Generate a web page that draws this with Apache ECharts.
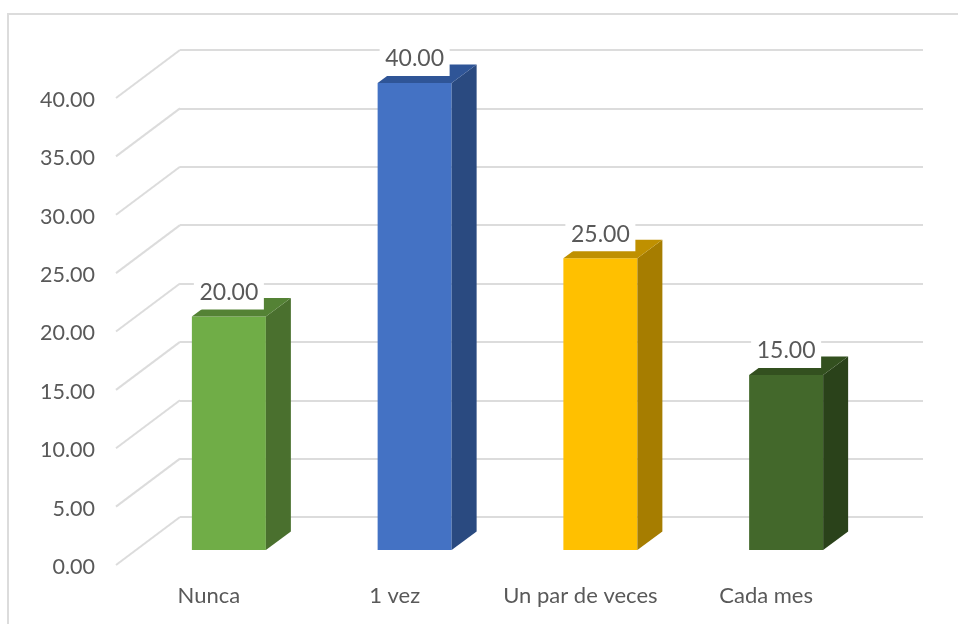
<!DOCTYPE html>
<html>
<head>
<meta charset="utf-8">
<style>
  html, body { margin: 0; padding: 0; background: #fff; }
  #chart { width: 958px; height: 624px; }
</style>
<script src="https://cdn.jsdelivr.net/npm/echarts@6/dist/echarts.min.js"></script>
</head>
<body>
<div id="chart"></div>
<script>
const categories = ['Nunca', '1 vez', 'Un par de veces', 'Cada mes']
const values = [20, 40, 25, 15]
const yTicks = [0, 5, 10, 15, 20, 25, 30, 35, 40]

const frontColors = ['#70AD47', '#4472C4', '#FFC000', '#43682B']
const sideColors = ['#4A702E', '#2A4A80', '#A67D00', '#2A421A']
const topColors = ['#548235', '#2F5597', '#BF9000', '#33501F']

const textColor = '#595959'
const lineColor = '#DCDCDC'
const fontFamily = 'Lato'

// fake 3d: bars sit on the floor between the front edge and the back wall
const barWidth = 74
const barShiftX = 20
const barShiftY = -17
const depthX = 25
const depthY = -18.5
const wallX = 64
const wallY = -48
// Lato sits a bit high, the front grid is 2px low so its labels line up
const labelNudge = 2

const chart = echarts.init(document.getElementById('chart'))

const renderDiagonal = (params, api) => {
  const y = api.coord([0, api.value(0)])[1] - labelNudge
  const x = params.coordSys.x
  return {
    type: 'line',
    shape: { x1: x, y1: y, x2: x + wallX, y2: y + wallY },
    style: { stroke: lineColor, lineWidth: 2, fill: null }
  }
}

const renderBar = (params, api) => {
  const i = params.dataIndex
  const base = api.coord([i, 0])
  const top = api.coord([i, api.value(1)])
  const x0 = base[0] + barShiftX - barWidth / 2
  const x1 = x0 + barWidth
  const yb = base[1] + barShiftY
  const yt = top[1] + barShiftY
  return {
    type: 'group',
    children: [
      {
        type: 'rect',
        shape: { x: x0, y: yt, width: barWidth, height: yb - yt },
        style: { fill: frontColors[i] }
      },
      {
        type: 'polygon',
        shape: { points: [[x1, yt], [x1 + depthX, yt + depthY], [x1 + depthX, yb + depthY], [x1, yb]] },
        style: { fill: sideColors[i] }
      },
      {
        type: 'polygon',
        shape: { points: [[x0, yt], [x1, yt], [x1 + depthX, yt + depthY], [x0 + depthX, yt + depthY]] },
        style: { fill: topColors[i] }
      },
      {
        type: 'rect',
        shape: { x: x0 + 2, y: yt - 43, width: barWidth - 4, height: 36 },
        style: { fill: '#fff' }
      },
      {
        type: 'text',
        style: {
          x: (x0 + x1) / 2,
          y: yt - 24,
          text: api.value(1).toFixed(2),
          align: 'center',
          verticalAlign: 'middle',
          fill: textColor,
          font: '23px ' + fontFamily
        }
      }
    ]
  }
}

const option = {
  animation: false,
  backgroundColor: '#fff',
  textStyle: { fontFamily },
  grid: [
    { left: 116, top: 98 + labelNudge, width: 743, height: 467 },
    { left: 180, top: 50, width: 743, height: 467 }
  ],
  xAxis: [
    {
      type: 'category',
      gridIndex: 0,
      data: categories,
      axisLine: { show: false },
      axisTick: { show: false },
      axisLabel: { color: textColor, fontSize: 22, fontFamily, margin: 18, interval: 0 }
    },
    {
      type: 'category',
      gridIndex: 1,
      data: categories,
      show: false
    }
  ],
  yAxis: [
    {
      type: 'value',
      gridIndex: 0,
      min: 0,
      max: 40,
      interval: 5,
      axisLine: { show: false },
      axisTick: { show: false },
      splitLine: { show: false },
      axisLabel: {
        color: textColor,
        fontSize: 21.5,
        fontFamily,
        margin: 21,
        formatter: v => v.toFixed(2)
      }
    },
    {
      type: 'value',
      gridIndex: 1,
      min: 0,
      max: 40,
      interval: 5,
      axisLine: { show: false },
      axisTick: { show: false },
      axisLabel: { show: false },
      splitLine: { lineStyle: { color: lineColor, width: 2 } }
    }
  ],
  series: [
    {
      type: 'custom',
      name: 'diagonals',
      coordinateSystem: 'cartesian2d',
      xAxisIndex: 0,
      yAxisIndex: 0,
      z: 1,
      silent: true,
      clip: false,
      encode: { y: 0 },
      data: yTicks.map(v => [v]),
      renderItem: renderDiagonal
    },
    {
      type: 'custom',
      name: 'bars',
      coordinateSystem: 'cartesian2d',
      xAxisIndex: 0,
      yAxisIndex: 0,
      z: 5,
      clip: false,
      encode: { x: 0, y: 1 },
      data: values.map((v, i) => [i, v]),
      renderItem: renderBar
    }
  ],
  graphic: [
    // outer chart frame, only the top and left edges fall inside the photo
    {
      type: 'polyline',
      z: 0,
      shape: { points: [[8, 624], [8, 14], [958, 14]] },
      style: { stroke: lineColor, lineWidth: 2, fill: null }
    }
  ]
}

chart.setOption(option)
</script>
</body>
</html>
